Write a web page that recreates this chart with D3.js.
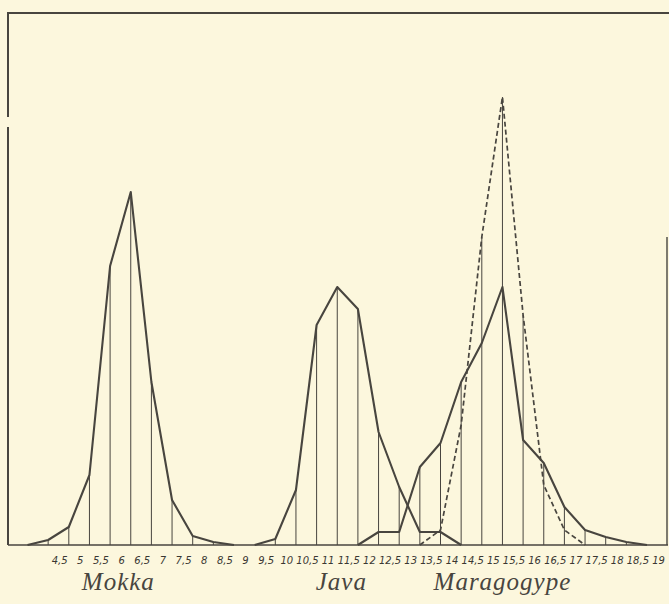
<!DOCTYPE html>
<html>
<head>
<meta charset="utf-8">
<script src="https://cdn.jsdelivr.net/npm/d3@7"></script>
<style>
  html, body { margin: 0; padding: 0; background: #fcf7dd; }
  svg { display: block; }
</style>
</head>
<body>
<div id="chart"></div>
<script>
// bean length classes (mm) and tick labels
const tickValues = [4.5, 5, 5.5, 6, 6.5, 7, 7.5, 8, 8.5, 9, 9.5, 10, 10.5, 11, 11.5, 12,
  12.5, 13, 13.5, 14, 14.5, 15, 15.5, 16, 16.5, 17, 17.5, 18, 18.5, 19];
const tickLabels = ['4,5', '5', '5,5', '6', '6,5', '7', '7,5', '8', '8,5', '9', '9,5', '10', '10,5', '11', '11,5', '12',
  '12,5', '13', '13,5', '14', '14,5', '15', '15,5', '16', '16,5', '17', '17,5', '18', '18,5', '19'];

// frequencies
const mokkaX = [4, 4.5, 5, 5.5, 6, 6.5, 7, 7.5, 8, 8.5, 9];
const mokkaY = [0, 0.5, 1.8, 7.0, 27.9, 35.3, 16.3, 4.5, 0.9, 0.3, 0];

const javaX = [9.5, 10, 10.5, 11, 11.5, 12, 12.5, 13, 13.5, 14, 14.5];
const javaY = [0, 0.6, 5.5, 22.0, 25.8, 23.6, 11.3, 5.8, 1.3, 1.3, 0];

const maraX = [12, 12.5, 13, 13.5, 14, 14.5, 15, 15.5, 16, 16.5, 17, 17.5, 18, 18.5, 19];
const maraY = [0, 1.3, 1.3, 7.8, 10.2, 16.3, 20.2, 25.8, 10.5, 8.2, 3.8, 1.5, 0.8, 0.3, 0];

const maraDashX = [13.5, 14, 14.5, 15, 15.5, 16, 16.5, 17, 17.5];
const maraDashY = [0, 1.5, 12.0, 30.8, 44.8, 23.0, 6.0, 1.5, 0];

const names = ['Mokka', 'Java', 'Maragogype'];
const nameCenters = [6.2, 11.6, 15.5];

const width = 669, height = 604;
const ink = '#48453f';

const x = d3.scaleLinear().domain([4, 19]).range([27.5, 647]);
const y = d3.scaleLinear().domain([0, 53]).range([545, 15]);

const svg = d3.select('#chart').append('svg')
  .attr('width', width)
  .attr('height', height);

svg.append('rect')
  .attr('width', width).attr('height', height)
  .attr('fill', '#fcf7dd');

const zip = (xs, ys) => xs.map((v, i) => ({ x: v, y: ys[i] }));
const series = [
  { pts: zip(mokkaX, mokkaY), dash: null },
  { pts: zip(javaX, javaY), dash: null },
  { pts: zip(maraX, maraY), dash: null },
  { pts: zip(maraDashX, maraDashY), dash: '5,3' }
];

// drop lines: from the base up to the highest point at each class
const tops = new Map();
series.forEach(s => s.pts.forEach(p => {
  tops.set(p.x, Math.max(tops.get(p.x) || 0, p.y));
}));
svg.append('g')
  .attr('stroke', ink)
  .attr('stroke-width', 1)
  .selectAll('line')
  .data(Array.from(tops).filter(d => d[1] > 0))
  .join('line')
  .attr('x1', d => x(d[0])).attr('x2', d => x(d[0]))
  .attr('y1', y(0)).attr('y2', d => y(d[1]));

// frame
const frame = svg.append('g')
  .attr('stroke', ink)
  .attr('fill', 'none');
frame.append('line')
  .attr('x1', 8).attr('x2', width).attr('y1', 13).attr('y2', 13)
  .attr('stroke-width', 2);
frame.append('line')
  .attr('x1', 8).attr('x2', 8).attr('y1', 12).attr('y2', 117)
  .attr('stroke-width', 2);
frame.append('line')
  .attr('x1', 8).attr('x2', 8).attr('y1', 127).attr('y2', y(0))
  .attr('stroke-width', 2);
frame.append('line')
  .attr('x1', 8).attr('x2', 668).attr('y1', y(0)).attr('y2', y(0))
  .attr('stroke-width', 1.6);
frame.append('line')
  .attr('x1', 667).attr('x2', 667).attr('y1', 237).attr('y2', y(0))
  .attr('stroke-width', 1.4);

// frequency polygons
const line = d3.line().x(d => x(d.x)).y(d => y(d.y));
svg.append('g')
  .selectAll('path')
  .data(series)
  .join('path')
  .attr('d', d => line(d.pts))
  .attr('fill', 'none')
  .attr('stroke', ink)
  .attr('stroke-width', d => d.dash ? 1.7 : 2.1)
  .attr('stroke-linejoin', 'round')
  .attr('stroke-dasharray', d => d.dash);

// x axis labels
const axis = d3.axisBottom(x)
  .tickValues(tickValues)
  .tickFormat((d, i) => tickLabels[i])
  .tickSize(0);
const gx = svg.append('g')
  .attr('transform', `translate(0,${y(0)})`)
  .call(axis);
gx.select('.domain').remove();
gx.selectAll('text')
  .attr('y', 19)
  .attr('dy', 0)
  .attr('dx', 11)
  .attr('fill', '#3a3732')
  .style('font-family', '"DejaVu Sans", sans-serif')
  .style('font-style', 'italic')
  .style('font-size', '10px');

// names below
svg.append('g')
  .selectAll('text')
  .data(names)
  .join('text')
  .attr('x', (d, i) => x(nameCenters[i]))
  .attr('y', 590)
  .attr('text-anchor', 'middle')
  .attr('fill', ink)
  .style('font-family', '"Liberation Serif", serif')
  .style('font-style', 'italic')
  .style('font-size', '25px')
  .style('letter-spacing', '1px')
  .text(d => d);
</script>
</body>
</html>
